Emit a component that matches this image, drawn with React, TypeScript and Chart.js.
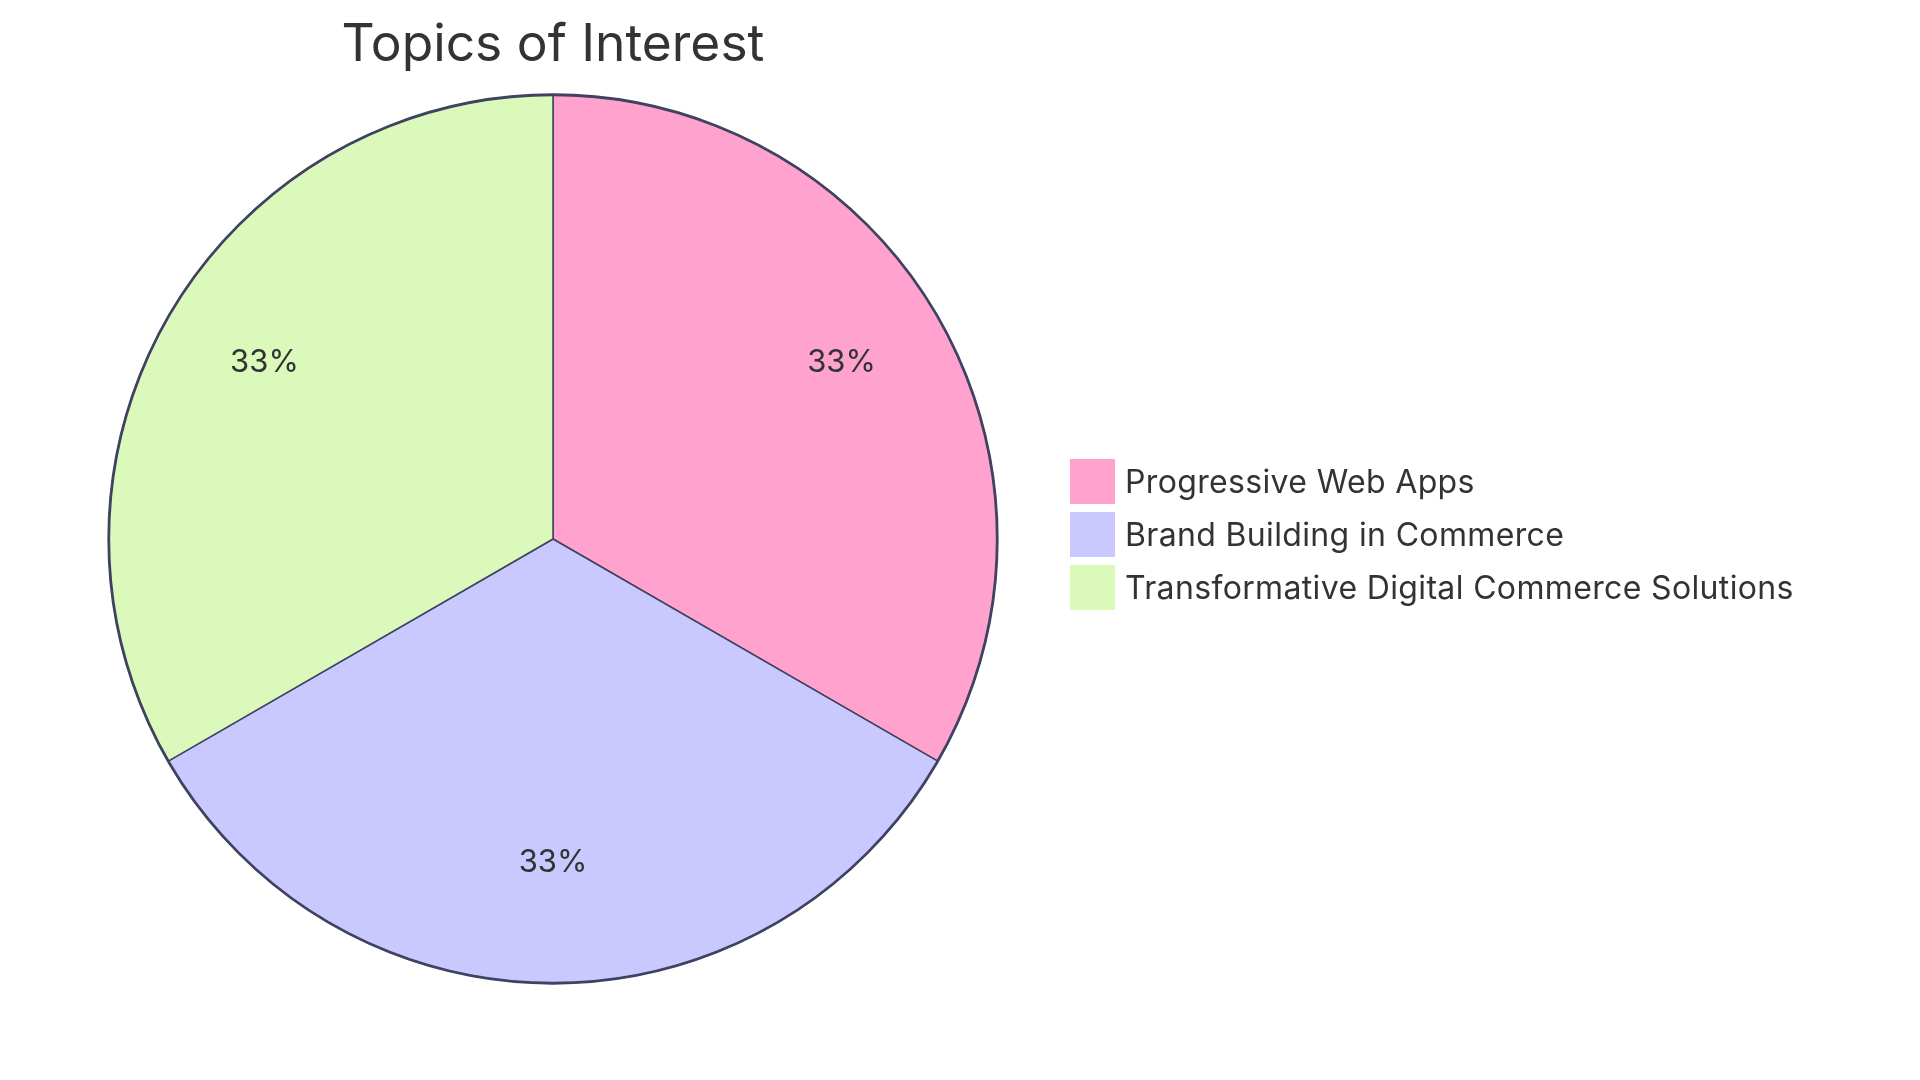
import React, { useEffect, useRef } from "react";
import { Chart, registerables } from "chart.js";

Chart.register(...registerables);

const title = "Topics of Interest";
const categories = ["Progressive Web Apps", "Brand Building in Commerce", "Transformative Digital Commerce Solutions"];
const values = [1, 1, 1];
const colors = ["#FFA3CE", "#C9C9FF", "#DBF9BB"];
const strokeColor = "#3F4361";
const textColor = "#333333";
const FONT = "Inter, 'Open Sans', sans-serif";

const overlayPlugin = {
  id: "overlay",
  afterDatasetsDraw(chart: any) {
    const ctx = chart.ctx;
    const meta = chart.getDatasetMeta(0);
    const arcs = meta.data;
    if (!arcs.length) return;
    const { x: cx, y: cy, outerRadius } = arcs[0].getProps(["x", "y", "outerRadius"], true);
    ctx.save();
    // outer stroke
    ctx.beginPath();
    ctx.arc(cx, cy, outerRadius, 0, Math.PI * 2);
    ctx.lineWidth = 2.8;
    ctx.strokeStyle = strokeColor;
    ctx.stroke();
    // percentage labels
    const data = chart.data.datasets[0].data as number[];
    const total = data.reduce((a, b) => a + b, 0);
    ctx.fillStyle = textColor;
    ctx.font = `31px ${FONT}`;
    ctx.textAlign = "center";
    ctx.textBaseline = "alphabetic";
    arcs.forEach((arc: any, i: number) => {
      const p = arc.getProps(["startAngle", "endAngle", "outerRadius", "x", "y"], true);
      const mid = (p.startAngle + p.endAngle) / 2;
      const r = p.outerRadius * 0.75;
      const tx = p.x + Math.cos(mid) * r;
      const ty = p.y + Math.sin(mid) * r;
      ctx.fillText(`${Math.round((data[i] / total) * 100)}%`, tx, ty);
    });
    // title
    ctx.font = `51.5px ${FONT}`;
    ctx.fillText(chart.options.plugins.overlay.title, cx, 61);
    // legend
    ctx.textAlign = "left";
    ctx.font = `32px ${FONT}`;
    try { (ctx as any).letterSpacing = "0.35px"; } catch (e) {}
    const labels = chart.data.labels as string[];
    labels.forEach((lab, i) => {
      const top = 459 + i * 53;
      ctx.fillStyle = (chart.data.datasets[0].backgroundColor as string[])[i];
      ctx.fillRect(1070, top, 45, 45);
      ctx.fillStyle = textColor;
      ctx.fillText(lab, 1125, top + 34);
    });
    ctx.restore();
  },
};

export default function App() {
  const ref = useRef<HTMLCanvasElement | null>(null);
  useEffect(() => {
    if (!ref.current) return;
    const chart = new Chart(ref.current, {
      type: "pie",
      data: {
        labels: categories,
        datasets: [
          {
            data: values,
            backgroundColor: colors,
            borderColor: strokeColor,
            borderWidth: 1.5,
            hoverOffset: 0,
          },
        ],
      },
      options: {
        responsive: false,
        animation: false,
        layout: { padding: { left: 108, right: 922, top: 94, bottom: 96 } },
        plugins: {
          legend: { display: false },
          tooltip: { enabled: false },
          title: { display: false },
          overlay: { title },
        } as any,
      },
      plugins: [overlayPlugin],
    });
    return () => chart.destroy();
  }, []);
  return (
    <div style={{ position: "absolute", left: 0, top: 0, width: 1920, height: 1080, background: "#fff" }}>
      <canvas ref={ref} width={1920} height={1080} style={{ width: 1920, height: 1080, display: "block" }} />
    </div>
  );
}
